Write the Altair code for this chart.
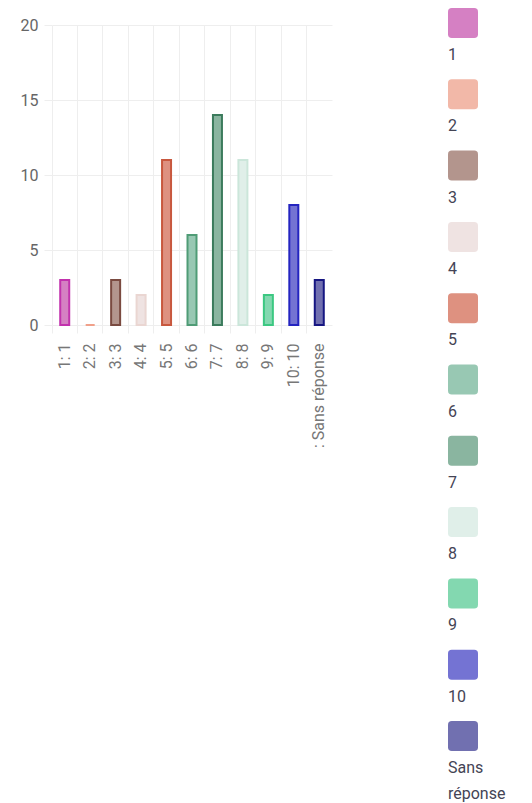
import altair as alt
import pandas as pd

categories = ["1", "2", "3", "4", "5", "6", "7", "8", "9", "10", "Sans réponse"]
axis_labels = ["1: 1", "2: 2", "3: 3", "4: 4", "5: 5", "6: 6", "7: 7", "8: 8", "9: 9", "10: 10", ": Sans réponse"]
counts = [3, 0, 3, 2, 11, 6, 14, 11, 2, 8, 3]
legend_labels = ["1", "2", "3", "4", "5", "6", "7", "8", "9", "10", "Sans\nréponse"]

fill_colors = ["#d580c3", "#f2b8a8", "#b3958d", "#efe3e2", "#de9180", "#98c8b3",
               "#8ab5a0", "#e0efe9", "#83d8b0", "#7473d3", "#7170b0"]
stroke_colors = ["#c232ad", "#f0a08a", "#7a4a40", "#ead6d2", "#c8583e", "#4f9c76",
                 "#3b7b5c", "#cbe6da", "#3cc882", "#2424c0", "#161682"]

df = pd.DataFrame({
    "cat": categories,
    "label": axis_labels,
    "count": counts,
    "legend": legend_labels,
})

font = "Roboto"

bars = alt.Chart(df).mark_bar(size=9, strokeWidth=2).encode(
    x=alt.X("label:N", sort=axis_labels, title=None,
            scale=alt.Scale(paddingInner=0, paddingOuter=0),
            axis=alt.Axis(labelAngle=-90, bandPosition=0, grid=True, gridColor="#eeeeee",
                          domain=False, tickColor="#eeeeee", tickSize=8,
                          labelPadding=10, labelFontSize=16, labelColor="#777777",
                          labelFont=font, labelAlign="right", labelBaseline="middle")),
    y=alt.Y("count:Q", title=None,
            scale=alt.Scale(domain=[0, 20], nice=False),
            axis=alt.Axis(values=[0, 5, 10, 15, 20], grid=True, gridColor="#eeeeee",
                          domain=False, tickColor="#eeeeee", tickSize=8,
                          labelPadding=6, labelFontSize=16, labelColor="#666666",
                          labelFont=font)),
    fill=alt.Color("cat:N", scale=alt.Scale(domain=categories, range=fill_colors), legend=None),
    stroke=alt.Stroke("cat:N", scale=alt.Scale(domain=categories, range=stroke_colors), legend=None),
).properties(width=280, height=300)

rounded_square = ("M -0.75 -1 L 0.75 -1 Q 1 -1 1 -0.75 L 1 0.75 Q 1 1 0.75 1 "
                  "L -0.75 1 Q -1 1 -1 0.75 L -1 -0.75 Q -1 -1 -0.75 -1 Z")

leg_base = alt.Chart(df).encode(
    y=alt.Y("cat:N", sort=categories, axis=None,
            scale=alt.Scale(type="point", padding=0, domain=categories)),
)

leg_sym = leg_base.mark_point(shape=rounded_square, filled=True, size=900, opacity=1,
                              yOffset=-2).encode(
    x=alt.value(15),
    color=alt.Color("cat:N", scale=alt.Scale(domain=categories, range=fill_colors), legend=None),
)

leg_txt = leg_base.mark_text(align="left", baseline="alphabetic", dy=35, fontSize=16,
                             font=font, color="#444455", lineBreak="\n",
                             lineHeight=26).encode(
    x=alt.value(0),
    text="legend:N",
)

legend = alt.layer(leg_sym, leg_txt).properties(width=40, height=713)

chart = alt.hconcat(bars, legend, spacing=116).properties(
    padding={"left": 12, "top": 0, "right": 0, "bottom": 0}
).configure_view(stroke=None)

chart.save("out.html", embed_options={"renderer": "svg", "actions": False})
